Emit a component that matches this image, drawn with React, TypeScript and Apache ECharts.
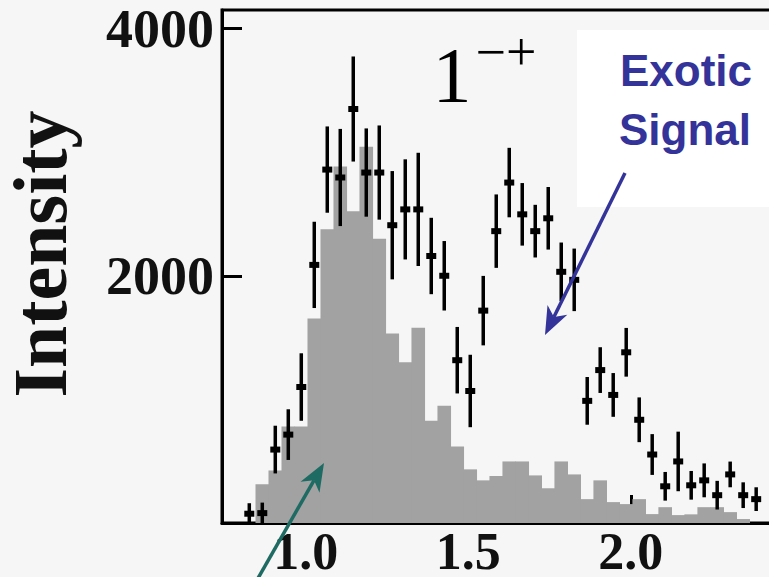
import React, { useEffect, useRef } from "react";
import * as echarts from "echarts";

// Mass bin centres (GeV) shared by the histogram and the data points
const massBins = [
  0.826, 0.866, 0.906, 0.946, 0.986, 1.026, 1.066, 1.106, 1.146, 1.186,
  1.226, 1.266, 1.306, 1.346, 1.386, 1.426, 1.466, 1.506, 1.546, 1.586,
  1.626, 1.666, 1.706, 1.746, 1.786, 1.826, 1.866, 1.906, 1.946, 1.986,
  2.026, 2.066, 2.106, 2.146, 2.186, 2.226, 2.266, 2.306, 2.346, 2.386,
];

// Grey histogram (background / non-exotic contribution)
const histogramValues = [
  0, 313, 425, 780, 780, 1654, 2377, 2883, 2521, 3043,
  2300, 1534, 1300, 1580, 827, 948, 618, 434, 345, 380,
  498, 498, 385, 281, 498, 393, 193, 345, 169, 153,
  193, 72, 128, 64, 70, 128, 128, 88, 32, 0,
];

// Data points with error bars
const pointValues = [
  75, 80, 594, 715, 1100, 2088, 2859, 2795, 3349, 2835,
  2835, 2409, 2537, 2537, 2160, 2000, 1317, 1068, 1718, 2361,
  2754, 2497, 2361, 2465, 2032, 1967, 988, 1237, 1036, 1381,
  835, 554, 297, 498, 305, 345, 225, 393, 225, 193,
];
const pointErrors = [
  85, 85, 193, 205, 273, 349, 349, 393, 425, 357,
  381, 438, 405, 458, 309, 281, 269, 293, 281, 297,
  281, 253, 213, 253, 237, 253, 193, 185, 177, 197,
  181, 165, 116, 241, 116, 137, 116, 104, 104, 96,
];

const xTickValues = [1.0, 1.5, 2.0];
const yTickValues = [2000, 4000];

const SERIF = "'Liberation Serif', 'Times New Roman', serif";
const SANS = "'Liberation Sans', Arial, sans-serif";

export default function App() {
  const ref = useRef<HTMLDivElement>(null);

  useEffect(() => {
    if (!ref.current) return;
    const chart = echarts.init(ref.current, undefined, { renderer: "svg" });

    const histData = massBins.map((m, i) => [m, histogramValues[i]]);
    const pointData = massBins.map((m, i) => [m, pointValues[i], pointErrors[i]]);
    const halfBin = 0.02;

    const blueTip = [545, 335];
    const greenTip = [324, 463];

    const option: any = {
      animation: false,
      backgroundColor: "#f6f6f6",
      grid: {
        left: 222,
        top: 10,
        right: 0,
        bottom: 51,
        show: true,
        borderColor: "#000",
        borderWidth: 3,
        backgroundColor: "transparent",
      },
      xAxis: {
        type: "value",
        min: 0.742,
        max: 2.487,
        splitLine: { show: false },
        axisLine: { show: true, lineStyle: { color: "#000", width: 3 } },
        axisTick: {
          show: true,
          inside: true,
          length: 28,
          customValues: xTickValues,
          lineStyle: { color: "#000", width: 3 },
        },
        axisLabel: {
          customValues: xTickValues,
          formatter: (v: number) => v.toFixed(1),
          fontFamily: SERIF,
          fontWeight: "bold",
          fontSize: 52,
          color: "#111",
          margin: 2,
        },
      },
      yAxis: {
        type: "value",
        min: 0,
        max: 4150,
        splitLine: { show: false },
        axisLine: { show: true, lineStyle: { color: "#000", width: 3 } },
        axisTick: {
          show: true,
          inside: true,
          length: 20,
          customValues: yTickValues,
          lineStyle: { color: "#000", width: 3 },
        },
        axisLabel: {
          customValues: yTickValues,
          formatter: (v: number) => String(v),
          fontFamily: SERIF,
          fontWeight: "bold",
          fontSize: 54,
          color: "#111",
          margin: 8,
        },
      },
      series: [
        {
          type: "custom",
          name: "histogram",
          clip: true,
          data: histData,
          encode: { x: 0, y: 1 },
          renderItem: (params: any, api: any) => {
            const x = api.value(0);
            const v = api.value(1);
            const p0 = api.coord([x - halfBin, v]);
            const p1 = api.coord([x + halfBin, 0]);
            return {
              type: "rect",
              shape: { x: p0[0] - 0.3, y: p0[1], width: p1[0] - p0[0] + 0.6, height: p1[1] - p0[1] },
              style: { fill: "#a2a2a2" },
            };
          },
        },
        {
          type: "custom",
          name: "data",
          clip: true,
          data: pointData,
          encode: { x: 0, y: 1 },
          z: 5,
          renderItem: (params: any, api: any) => {
            const x = api.value(0);
            const v = api.value(1);
            const e = api.value(2);
            const top = api.coord([x, v + e]);
            const bot = api.coord([x, Math.max(v - e, 0)]);
            const c = api.coord([x, v]);
            return {
              type: "group",
              children: [
                {
                  type: "line",
                  shape: { x1: top[0], y1: top[1], x2: bot[0], y2: bot[1] },
                  style: { stroke: "#000", lineWidth: 3.5 },
                },
                {
                  type: "rect",
                  shape: { x: c[0] - 5, y: c[1] - 3, width: 10, height: 6 },
                  style: { fill: "#000" },
                },
              ],
            };
          },
        },
      ],
      graphic: [
        {
          type: "rect",
          z: 1,
          shape: { x: 577, y: 30, width: 230, height: 177 },
          style: { fill: "#ffffff" },
        },
        {
          type: "text",
          z: 10,
          x: 686,
          y: 70,
          style: {
            text: "Exotic",
            fill: "#333399",
            font: `bold 44px ${SANS}`,
            align: "center",
            verticalAlign: "middle",
          },
        },
        {
          type: "text",
          z: 10,
          x: 685,
          y: 129,
          style: {
            text: "Signal",
            fill: "#333399",
            font: `bold 44px ${SANS}`,
            align: "center",
            verticalAlign: "middle",
          },
        },
        {
          type: "line",
          z: 10,
          shape: { x1: 625, y1: 173, x2: 553.9, y2: 317.1 },
          style: { stroke: "#333399", lineWidth: 3.5 },
        },
        {
          type: "polygon",
          z: 10,
          shape: {
            points: [blueTip, [567.3, 314.8], [553.9, 317.1], [547.5, 305.0]],
          },
          style: { fill: "#333399" },
        },
        {
          type: "line",
          z: 10,
          shape: { x1: 257, y1: 580, x2: 314, y2: 480.3 },
          style: { stroke: "#1d6b63", lineWidth: 3.5 },
        },
        {
          type: "polygon",
          z: 10,
          shape: {
            points: [greenTip, [319.5, 492.7], [314, 480.3], [300.5, 481.7]],
          },
          style: { fill: "#1d6b63" },
        },
        {
          type: "text",
          z: 10,
          x: 452,
          y: 74,
          style: {
            text: "1",
            fill: "#000",
            font: `78px ${SERIF}`,
            align: "center",
            verticalAlign: "middle",
          },
        },
        {
          type: "text",
          z: 10,
          x: 506,
          y: 52,
          style: {
            text: "\u2212+",
            fill: "#000",
            font: `54px ${SERIF}`,
            align: "center",
            verticalAlign: "middle",
          },
        },
        {
          type: "text",
          z: 10,
          x: 40,
          y: 254,
          rotation: Math.PI / 2,
          style: {
            text: "Intensity",
            fill: "#111",
            font: `bold 76px ${SERIF}`,
            align: "center",
            verticalAlign: "middle",
          },
        },
      ],
    };

    chart.setOption(option);
    return () => chart.dispose();
  }, []);

  return (
    <div
      ref={ref}
      style={{ position: "fixed", left: 0, top: 0, width: 789, height: 577, background: "#f6f6f6" }}
    />
  );
}
